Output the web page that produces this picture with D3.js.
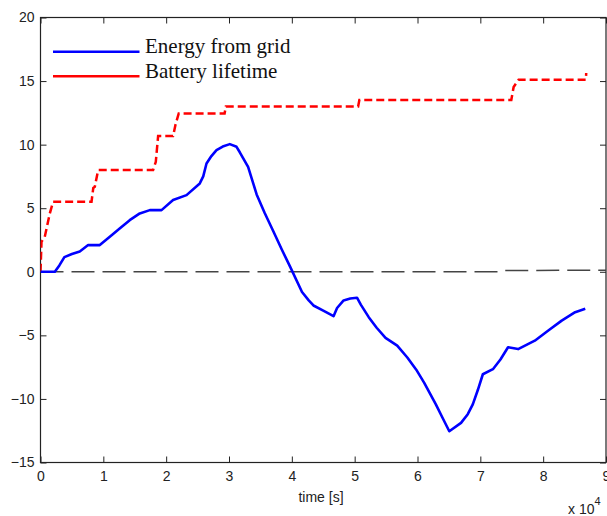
<!DOCTYPE html>
<html>
<head>
<meta charset="utf-8">
<script src="https://cdn.jsdelivr.net/npm/d3@7"></script>
<style>
  html, body { margin: 0; padding: 0; background: #fff; }
  svg { display: block; }
</style>
</head>
<body>
<svg id="chart" width="607" height="516"></svg>
<script>
// ---- data ----
const xTicks = [0, 10000, 20000, 30000, 40000, 50000, 60000, 70000, 80000, 90000];
const yTicks = [-15, -10, -5, 0, 5, 10, 15, 20];
const seriesNames = ["Energy from grid", "Battery lifetime"];

const gridTime = [0, 2280, 3000, 3800, 5000, 6250, 7580, 9440, 11030, 12600, 14200, 15800, 17400, 19260, 21100, 23240, 25350, 25900, 26420, 27200, 28010, 29000, 30130, 31200, 31720, 33040, 34400, 35700, 37070, 38400, 39740, 41620, 42690, 43440, 45000, 46640, 47200, 48240, 49300, 50370, 51000, 52240, 53500, 54910, 56770, 58380, 59800, 61050, 62920, 64000, 65060, 66930, 68000, 68800, 69600, 70400, 72000, 73200, 74410, 76010, 78670, 80820, 82950, 85090, 86700];
const gridEnergy = [0, 0, 0.5, 1.15, 1.4, 1.6, 2.1, 2.1, 2.75, 3.4, 4.06, 4.59, 4.85, 4.85, 5.64, 6.03, 6.95, 7.5, 8.52, 9.1, 9.57, 9.85, 10.04, 9.83, 9.4, 8.25, 6.08, 4.6, 3.17, 1.75, 0.39, -1.59, -2.25, -2.65, -3.05, -3.49, -2.85, -2.25, -2.1, -2.04, -2.6, -3.57, -4.4, -5.2, -5.81, -6.74, -7.7, -8.72, -10.43, -11.5, -12.54, -11.88, -11.2, -10.43, -9.3, -8.06, -7.66, -6.9, -5.94, -6.08, -5.42, -4.62, -3.84, -3.18, -2.91];

const batteryTime = [0, 160, 680, 1480, 2000, 8120, 8400, 8640, 9170, 17920, 18350, 18720, 21100, 21500, 22000, 29300, 29500, 50550, 50750, 74930, 75300, 76100, 86800, 86850];
const batteryLife = [0, 2.36, 2.75, 4.59, 5.5, 5.5, 6.6, 6.68, 8.0, 8.0, 8.65, 10.67, 10.67, 11.6, 12.45, 12.45, 13.0, 13.0, 13.52, 13.52, 14.53, 15.11, 15.11, 15.64];

const zeroTime = [0, 73000, 73500, 90000];
const zeroValue = [0, 0, 0.1, 0.12];

// ---- layout ----
const L = 40.5, R = 606, T = 17.5, B = 462.5;
const svg = d3.select("#chart");
const x = d3.scaleLinear().domain([0, 90000]).range([L, R]);
const y = d3.scaleLinear().domain([-15, 20]).range([B, T]);

svg.append("defs").append("clipPath").attr("id", "clip")
  .append("rect").attr("x", L).attr("y", T).attr("width", R - L).attr("height", B - T);

const tickFont = "'Liberation Sans', Arial, sans-serif";

// bottom axis
const gB = svg.append("g").attr("transform", `translate(0,${B})`)
  .call(d3.axisBottom(x).tickValues(xTicks).tickSizeInner(-6).tickSizeOuter(0).tickPadding(9)
    .tickFormat(d => d / 10000));
// top axis
const gT = svg.append("g").attr("transform", `translate(0,${T})`)
  .call(d3.axisTop(x).tickValues(xTicks).tickSizeInner(-6).tickSizeOuter(0).tickFormat(""));
// left axis
const gL = svg.append("g").attr("transform", `translate(${L},0)`)
  .call(d3.axisLeft(y).tickValues(yTicks).tickSizeInner(-6).tickSizeOuter(0).tickPadding(6));
// right axis
const gR = svg.append("g").attr("transform", `translate(${R},0)`)
  .call(d3.axisRight(y).tickValues(yTicks).tickSizeInner(-6).tickSizeOuter(0).tickFormat(""));

[gB, gT, gL, gR].forEach(g => {
  g.select(".domain").remove();
  g.selectAll(".tick line").attr("stroke", "#222").attr("stroke-width", 1);
  g.selectAll(".tick text").attr("fill", "#222").style("font-family", tickFont).style("font-size", "14px");
});
gB.selectAll(".tick text").attr("dy", "0.71em");

// frame
svg.append("rect").attr("x", L).attr("y", T).attr("width", R - L).attr("height", B - T)
  .attr("fill", "none").attr("stroke", "#222").attr("stroke-width", 1.2);

const plot = svg.append("g").attr("clip-path", "url(#clip)");
const line = d3.line().x(d => x(d[0])).y(d => y(d[1]));

// zero reference line
plot.append("path")
  .datum(zeroTime.map((t, i) => [t, zeroValue[i]]))
  .attr("d", line).attr("fill", "none")
  .attr("stroke", "#444").attr("stroke-width", 1.5).attr("stroke-dasharray", "23,8");

// battery lifetime
plot.append("path")
  .datum(batteryTime.map((t, i) => [t, batteryLife[i]]))
  .attr("d", line).attr("fill", "none")
  .attr("stroke", "#ff0000").attr("stroke-width", 2.5).attr("stroke-dasharray", "8,4");

// energy from grid
plot.append("path")
  .datum(gridTime.map((t, i) => [t, gridEnergy[i]]))
  .attr("d", line).attr("fill", "none")
  .attr("stroke", "#0000ff").attr("stroke-width", 2.6).attr("stroke-linejoin", "round");

// legend
const legendColors = ["#0000ff", "#ff0000"];
const leg = svg.append("g");
seriesNames.forEach((name, i) => {
  const ly = 51.7 + i * 24.5;
  leg.append("line").attr("x1", 53).attr("x2", 139.5).attr("y1", ly).attr("y2", ly)
    .attr("stroke", legendColors[i]).attr("stroke-width", 2.6);
  leg.append("text").attr("x", 145).attr("y", ly + 1.7)
    .style("font-family", "'Liberation Serif', 'Times New Roman', serif")
    .style("font-size", "21px").attr("fill", "#111")
    .text(name);
});

// axis label
svg.append("text").attr("x", 321).attr("y", 502).attr("text-anchor", "middle")
  .style("font-family", tickFont).style("font-size", "14px").attr("fill", "#222")
  .text("time [s]");

// exponent
const ex = svg.append("text").attr("x", 568).attr("y", 514)
  .style("font-family", tickFont).style("font-size", "14px").attr("fill", "#222");
ex.append("tspan").text("x 10");
ex.append("tspan").attr("dy", -9).style("font-size", "11px").text("4");
</script>
</body>
</html>
